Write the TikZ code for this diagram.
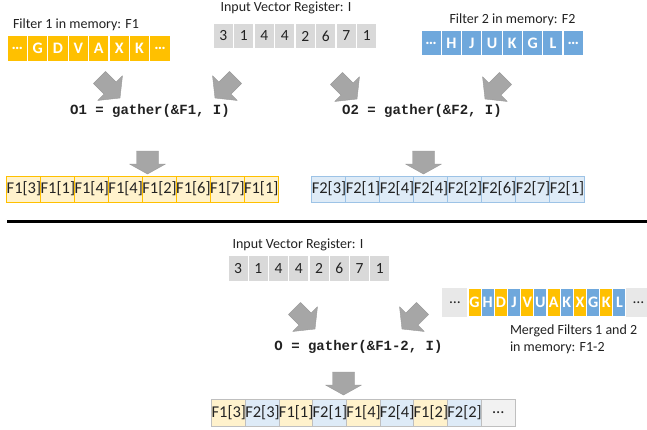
\documentclass[tikz,border=0pt]{standalone}
\usepackage{fontspec}
\setmainfont{Carlito}
\newfontfamily\codefont{Liberation Mono}
\definecolor{gold}{HTML}{FFC000}
\definecolor{sky}{HTML}{6FA8DC}
\definecolor{regray}{HTML}{D9D9D9}
\definecolor{lyel}{HTML}{FFF2CC}
\definecolor{lblu}{HTML}{DEEBF7}
\definecolor{bblu}{HTML}{9DC3E6}
\definecolor{agray}{HTML}{A6A6A6}
\definecolor{adraw}{HTML}{9A9A9A}
\definecolor{egray}{HTML}{E8E8E8}
\definecolor{cgray}{HTML}{F2F2F2}
\definecolor{bgray}{HTML}{BFBFBF}
\definecolor{txt}{HTML}{222222}
\begin{document}
\begin{tikzpicture}[x=1pt,y=-1pt,
  every node/.style={inner sep=0pt, outer sep=0pt, text=txt},
  lbl/.style={font=\fontsize{14}{16.5}\selectfont},
  code/.style={font=\codefont\bfseries\fontsize{14}{16}\selectfont},
  basecell/.style={minimum height=26, font=\fontsize{15.5}{18}\selectfont},
  regcell/.style={basecell, fill=regray, draw=white, line width=1.2pt, minimum width=20.5},
  memcell/.style={basecell, fill=#1, draw=white, line width=1.2pt, minimum width=20.4,
     text=white, font=\fontsize{16}{18}\selectfont\bfseries},
  outcell/.style 2 args={basecell, fill=#1, draw=#2, line width=0.8pt, minimum width=33.9,
     font=\fontsize{16.5}{18}\selectfont},
  arrowfill/.style={fill=agray, draw=adraw, line width=0.4pt, line join=round},
  diagarrow/.pic={\path[arrowfill] (0,0) -- (17.5,-14) -- (8.5,-14) -- (8.5,-29) -- (-8.5,-29)
      -- (-8.5,-14) -- (-17.5,-14) -- cycle;},
  downarrow/.pic={\path[arrowfill] (0,0) -- (18,-10) -- (11,-10) -- (11,-23) -- (-11,-23)
      -- (-11,-10) -- (-18,-10) -- cycle;}
]
\useasboundingbox[fill=white] (0,0) rectangle (647,429);

% ---------- top half ----------
\node[lbl] (lblF1) at (76,24.5) {Filter 1 in memory: F1};
\node[lbl] (lblI) at (286,8) {Input Vector Register: I};
\node[lbl] (lblF2) at (512.5,20) {Filter 2 in memory: F2};

\foreach \v [count=\i] in {…,G,D,V,A,X,K,…}
  \node[memcell=gold] (fa\i) at ({7+20.4*(\i-0.5)},48.5) {\v};
\foreach \v [count=\i] in {3,1,4,4,2,6,7,1}
  \node[regcell] (ia\i) at ({213+20.5*(\i-0.5)},36) {\v};
\foreach \v [count=\i] in {…,H,J,U,K,G,L,…}
  \node[memcell=sky] (fb\i) at ({421+20.3*(\i-0.5)},43) {\v};

\pic[rotate=45] at (120,98) {diagarrow};
\pic[rotate=-45] at (215,98) {diagarrow};
\pic[rotate=45] at (357,99) {diagarrow};
\pic[rotate=-45] at (485,99) {diagarrow};

\node[code] (o1) at (150,111) {O1 = gather(\&F1, I)};
\node[code] (o2) at (422,111) {O2 = gather(\&F2, I)};

\pic at (147.5,174) {downarrow};
\pic at (423.5,174) {downarrow};

\foreach \v [count=\i] in {3,1,4,4,2,6,7,1}
  \node[outcell={lyel}{gold}] (ra\i) at ({7+33.9*(\i-0.5)},189) {F1[\v]};
\foreach \v [count=\i] in {3,1,4,4,2,6,7,1}
  \node[outcell={lblu}{bblu}, minimum width=34] (rb\i) at ({312+34*(\i-0.5)},189) {F2[\v]};

% ---------- separator ----------
\coordinate (sepL) at (7,221.5);
\coordinate (sepR) at (647,221.5);
\draw[line width=3pt] (sepL) -- (sepR);

% ---------- bottom half ----------
\node[lbl] (lblI2) at (298,245) {Input Vector Register: I};
\foreach \v [count=\i] in {3,1,4,4,2,6,7,1}
  \node[regcell, minimum width=20.25] (ib\i) at ({228+20.25*(\i-0.5)},268.5) {\v};

\node[basecell, fill=egray, minimum width=26, minimum height=29] (mL) at (455,302.5) {…};
\foreach \v/\c [count=\i] in {G/gold,H/sky,D/gold,J/sky,V/gold,U/sky,A/gold,K/sky,X/gold,G/sky,K/gold,L/sky}
  \node[memcell=\c, minimum width=13.17, minimum height=29] (mc\i) at ({468+13.17*(\i-0.5)},302.5) {\v};
\node[basecell, fill=egray, minimum width=21, minimum height=29] (mR) at (636.5,302.5) {\hspace*{4pt}…};
\node[lbl, align=left, anchor=north west] (lblM) at (510,325) {Merged Filters 1 and 2\\in memory: F1-2};

\pic[rotate=45] at (315,329) {diagarrow};
\pic[rotate=-45] at (402,329) {diagarrow};

\node[code] (o3) at (358.5,347) {O = gather(\&F1-2, I)};

\pic at (343.5,395) {downarrow};

\foreach \t/\c [count=\i] in {F1[3]/lyel,F2[3]/lblu,F1[1]/lyel,F2[1]/lblu,F1[4]/lyel,F2[4]/lblu,F1[2]/lyel,F2[2]/lblu,…/cgray}
  \node[outcell={\c}{bgray}, minimum width=33.67, minimum height=27] (rc\i) at ({212+33.67*(\i-0.5)},412.5) {\t};
\end{tikzpicture}
\end{document}
